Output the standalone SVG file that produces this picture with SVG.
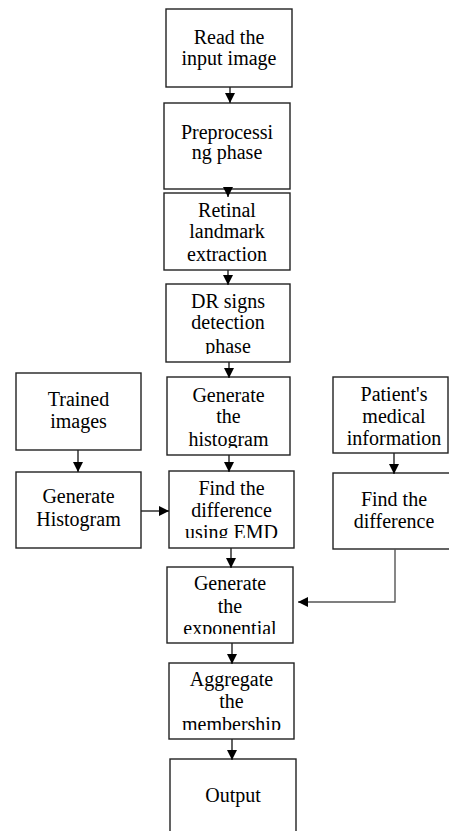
<svg xmlns="http://www.w3.org/2000/svg" width="449" height="831" viewBox="0 0 449 831">
<style>
.box{fill:#fff;stroke:#222;stroke-width:1.4}
.t{font-family:"Liberation Serif","Times New Roman","DejaVu Serif",serif;font-size:20px;fill:#000;text-anchor:middle}
.c{fill:none;stroke:#222;stroke-width:1.4}
.g{stroke:#555}
</style>
<defs>
<marker id="ah" viewBox="0 0 10 10" refX="10" refY="5" markerWidth="10" markerHeight="10" markerUnits="userSpaceOnUse" orient="auto">
<path d="M0,0 L10,5 L0,10 z" fill="#000"/>
</marker>
<clipPath id="cDR"><rect x="160" y="280" width="140" height="74"/></clipPath>
<clipPath id="cHist"><rect x="160" y="375" width="140" height="73"/></clipPath>
<clipPath id="cEMD"><rect x="160" y="470" width="140" height="68"/></clipPath>
<clipPath id="cExp"><rect x="160" y="565" width="140" height="69"/></clipPath>
<clipPath id="cAgg"><rect x="160" y="660" width="140" height="70"/></clipPath>
</defs>
<rect width="449" height="831" fill="#fff"/>
<g id="read">
<rect class="box" x="166" y="9" width="126" height="78"/>
<text class="t" x="229" y="44">Read the</text>
<text class="t" x="229" y="65">input image</text>
</g>
<g id="preprocessing">
<rect class="box" x="164" y="103" width="126" height="86"/>
<text class="t" x="227" y="139">Preprocessi</text>
<text class="t" x="227" y="159">ng phase</text>
</g>
<g id="retinal">
<rect class="box" x="164" y="193" width="126" height="77"/>
<text class="t" x="227" y="217">Retinal</text>
<text class="t" x="227" y="238">landmark</text>
<text class="t" x="227" y="261">extraction</text>
</g>
<g id="dr">
<rect class="box" x="166" y="284" width="124" height="78"/>
<g clip-path="url(#cDR)">
<text class="t" x="228" y="308">DR signs</text>
<text class="t" x="228" y="329">detection</text>
<text class="t" x="228" y="353">phase</text>
</g>
</g>
<g id="histogram">
<rect class="box" x="167" y="377" width="123" height="78"/>
<g clip-path="url(#cHist)">
<text class="t" x="228.5" y="402">Generate</text>
<text class="t" x="228.5" y="423">the</text>
<text class="t" x="228.5" y="446">histogram</text>
</g>
</g>
<g id="trained">
<rect class="box" x="16" y="373" width="125" height="77"/>
<text class="t" x="78.5" y="406">Trained</text>
<text class="t" x="78.5" y="428">images</text>
</g>
<g id="genhist">
<rect class="box" x="16" y="472" width="125" height="76"/>
<text class="t" x="78.5" y="503">Generate</text>
<text class="t" x="78.5" y="526">Histogram</text>
</g>
<g id="emd">
<rect class="box" x="169" y="471" width="125" height="77"/>
<g clip-path="url(#cEMD)">
<text class="t" x="231.5" y="495">Find the</text>
<text class="t" x="231.5" y="517">difference</text>
<text class="t" x="231.5" y="539">using EMD</text>
</g>
</g>
<g id="patient">
<rect class="box" x="333" y="377" width="115" height="76"/>
<text class="t" x="394" y="401">Patient's</text>
<text class="t" x="394" y="423">medical</text>
<text class="t" x="394" y="445">information</text>
</g>
<g id="finddiff">
<rect class="box" x="333" y="473" width="125" height="76"/>
<text class="t" x="394" y="506">Find the</text>
<text class="t" x="394" y="528">difference</text>
</g>
<g id="exponential">
<rect class="box" x="167" y="567" width="126" height="76"/>
<g clip-path="url(#cExp)">
<text class="t" x="230" y="590">Generate</text>
<text class="t" x="230" y="613">the</text>
<text class="t" x="230" y="635">exponential</text>
</g>
</g>
<g id="aggregate">
<rect class="box" x="169" y="663" width="125" height="76"/>
<g clip-path="url(#cAgg)">
<text class="t" x="231.5" y="686">Aggregate</text>
<text class="t" x="231.5" y="708">the</text>
<text class="t" x="231.5" y="731">membership</text>
</g>
</g>
<g id="output">
<rect class="box" x="170" y="759" width="126" height="90"/>
<text class="t" x="233" y="802">Output</text>
</g>
<g id="connectors">
<line class="c" x1="230" y1="87" x2="230" y2="103" marker-end="url(#ah)"/>
<line class="c" x1="228" y1="189" x2="228" y2="197" marker-end="url(#ah)"/>
<line class="c" x1="228" y1="270" x2="228" y2="285" marker-end="url(#ah)"/>
<line class="c" x1="229" y1="362" x2="229" y2="378" marker-end="url(#ah)"/>
<line class="c" x1="229" y1="455" x2="229" y2="472" marker-end="url(#ah)"/>
<line class="c" x1="78" y1="450" x2="78" y2="472" marker-end="url(#ah)"/>
<line class="c" x1="141" y1="511" x2="169" y2="511" marker-end="url(#ah)"/>
<line class="c" x1="394" y1="453" x2="394" y2="474" marker-end="url(#ah)"/>
<polyline class="c g" points="395,549 395,602 298,602" marker-end="url(#ah)"/>
<line class="c" x1="231" y1="548" x2="231" y2="568" marker-end="url(#ah)"/>
<line class="c" x1="232" y1="643" x2="232" y2="664" marker-end="url(#ah)"/>
<line class="c" x1="232" y1="739" x2="232" y2="760" marker-end="url(#ah)"/>
</g>
</svg>
